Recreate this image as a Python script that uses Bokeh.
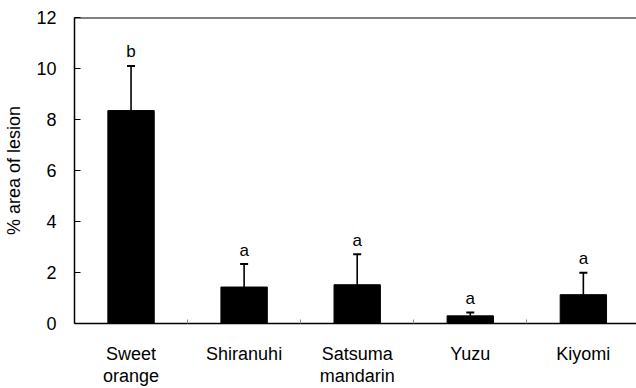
from bokeh.plotting import figure
from bokeh.models import (ColumnDataSource, Whisker, TeeHead, Span, FixedTicker, Range1d)
from bokeh.core.properties import value
from bokeh.embed import file_html
from bokeh.resources import INLINE

# ---- data ----
cultivars = ["Sweet\norange", "Shiranuhi", "Satsuma\nmandarin", "Yuzu", "Kiyomi"]
lesion_mean = [8.35, 1.43, 1.52, 0.30, 1.13]
lesion_err = [1.75, 0.90, 1.20, 0.13, 0.86]
letters = ["b", "a", "a", "a", "a"]
y_ticks = [0, 2, 4, 6, 8, 10, 12]
y_max = 12

FONT = "Liberation Sans"

xs = list(range(len(cultivars)))
upper = [m + e for m, e in zip(lesion_mean, lesion_err)]
src = ColumnDataSource(dict(x=xs, mean=lesion_mean, upper=upper, letter=letters))

p = figure(width=636, height=388, output_backend="svg", toolbar_location=None,
           x_range=Range1d(-0.5, 4.47), y_range=Range1d(0, y_max),
           min_border_left=74, min_border_right=0, min_border_top=17, min_border_bottom=62)
p.outline_line_color = None
p.xgrid.visible = False
p.ygrid.visible = False
p.background_fill_color = "white"
p.border_fill_color = "white"

p.vbar(x="x", top="mean", width=0.41, source=src, fill_color="black", line_color="black")

wh = Whisker(source=src, base="x", upper="upper", lower="mean",
             upper_head=TeeHead(size=8, line_width=2, line_color="black"),
             lower_head=None, line_color="black", line_width=1.6)
p.add_layout(wh)

p.text(x="x", y="upper", text="letter", source=src, text_align="center",
       text_baseline="alphabetic", y_offset=-14, text_font_size="17px",
       text_font=value(FONT), text_color="black")

top = Span(location=y_max, dimension="width", line_color="black", line_width=2)
p.add_layout(top)

# y axis
p.yaxis.ticker = FixedTicker(ticks=y_ticks)
p.yaxis.major_tick_in = 6
p.yaxis.major_tick_out = 0
p.yaxis.major_tick_line_color = "black"
p.yaxis.minor_tick_line_color = None
p.yaxis.axis_line_width = 1.5
p.yaxis.axis_line_color = "black"
p.yaxis.major_label_text_font = FONT
p.yaxis.major_label_text_font_size = "18px"
p.yaxis.major_label_text_color = "black"
p.yaxis.major_label_standoff = 18
p.yaxis.axis_label = "% area of lesion"
p.yaxis.axis_label_text_font = FONT
p.yaxis.axis_label_text_font_size = "18px"
p.yaxis.axis_label_text_font_style = "normal"
p.yaxis.axis_label_text_color = "black"
p.yaxis.axis_label_standoff = 9

# x axis
p.xaxis.ticker = FixedTicker(ticks=xs, minor_ticks=[0.5, 1.5, 2.5, 3.5])
p.xaxis.major_label_overrides = {i: c for i, c in enumerate(cultivars)}
p.xaxis.major_tick_in = 0
p.xaxis.major_tick_out = 0
p.xaxis.minor_tick_in = 4
p.xaxis.minor_tick_out = 0
p.xaxis.minor_tick_line_color = "#888888"
p.xaxis.axis_line_width = 1.5
p.xaxis.axis_line_color = "black"
p.xaxis.major_label_text_font = FONT
p.xaxis.major_label_text_font_size = "18px"
p.xaxis.major_label_text_color = "black"
p.xaxis.major_label_standoff = 20
p.xaxis.major_label_text_line_height = 1.1

open("out.html", "w").write(file_html(p, INLINE))
